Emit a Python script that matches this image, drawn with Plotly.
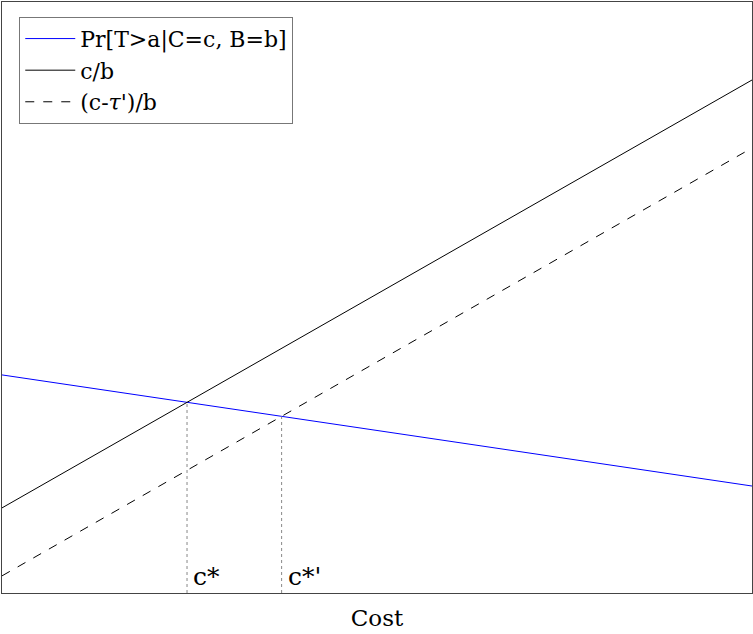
import plotly.graph_objects as go

# data (x in arbitrary cost units, y in probability units)
cost = [0.0, 1.0]
pr_t = [0.369, 0.181]      # Pr[T>a|C=c, B=b]
c_over_b = [0.144, 0.868]  # c/b
c_tau_b = [0.029, 0.753]   # (c-tau')/b
names = ["Pr[T>a|C=c, B=b]", "c/b", "(c-<i>τ</i>')/b"]
marks = ["c*", "c*'"]

def line_coef(ys):
    s = (ys[1] - ys[0]) / (cost[1] - cost[0])
    return s, ys[0] - s * cost[0]

def intersect(a, b):
    sa, ia = line_coef(a)
    sb, ib = line_coef(b)
    x = (ib - ia) / (sa - sb)
    return x, sa * x + ia

FONT = "DejaVu Serif"
fig = go.Figure()
fig.add_trace(go.Scatter(x=cost, y=pr_t, mode="lines", name=names[0],
                         line=dict(color="blue", width=1)))
fig.add_trace(go.Scatter(x=cost, y=c_over_b, mode="lines", name=names[1],
                         line=dict(color="black", width=1)))
fig.add_trace(go.Scatter(x=cost, y=c_tau_b, mode="lines", name=names[2],
                         line=dict(color="black", width=1, dash="dash")))

for other, lab in zip([c_over_b, c_tau_b], marks):
    xi, yi = intersect(pr_t, other)
    fig.add_trace(go.Scatter(x=[xi, xi], y=[0, yi], mode="lines", showlegend=False,
                             line=dict(color="#888888", width=1, dash="dot"),
                             hoverinfo="skip"))
    fig.add_annotation(x=xi, y=0, text=lab, showarrow=False, xanchor="left",
                       yanchor="bottom", xshift=4, yshift=0,
                       font=dict(family=FONT, size=25, color="black"))

fig.update_layout(
    width=753, height=634,
    margin=dict(l=2, r=1, t=2, b=41),
    paper_bgcolor="white", plot_bgcolor="white",
    font=dict(family=FONT, size=22, color="black"),
    showlegend=True,
    legend=dict(x=0.023, y=0.975, xanchor="left", yanchor="top",
                bordercolor="#777777", borderwidth=1, bgcolor="white",
                font=dict(family=FONT, size=22), itemwidth=50,
                tracegroupgap=0),
    xaxis=dict(range=[0, 1], showgrid=False, zeroline=False, showticklabels=False,
               ticks="", showline=True, linecolor="#444444", linewidth=1, mirror=True,
               title=dict(text="Cost", font=dict(family=FONT, size=23), standoff=16)),
    yaxis=dict(range=[0, 1], showgrid=False, zeroline=False, showticklabels=False,
               ticks="", showline=True, linecolor="#444444", linewidth=1, mirror=True),
)

fig.write_html("out.html", config={"displayModeBar": False},
               post_script="document.body.style.margin='0';document.body.style.overflow='hidden';")
